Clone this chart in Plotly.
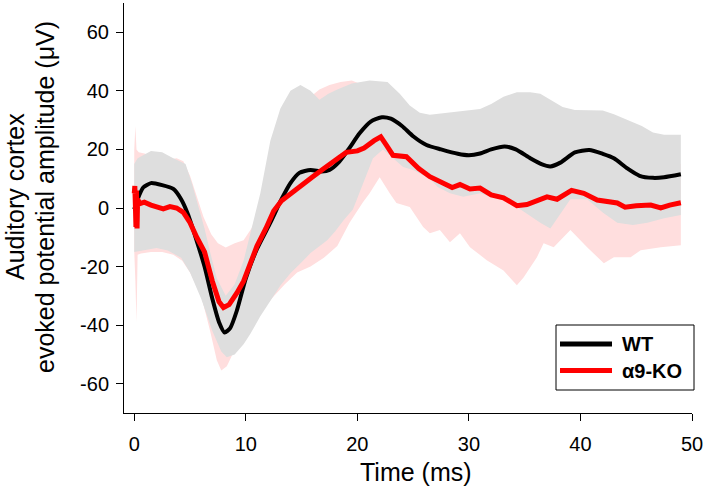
import plotly.graph_objects as go

# WT mean
wt_t = [0, 0.3, 0.8, 1.5, 2.5, 3.5, 4.2, 4.8, 5.5, 6.3, 7.0, 7.6, 8.1, 8.6, 9.2, 10.0, 11.0, 12.2, 13.2, 14.0,
        14.8, 15.8, 16.8, 17.5, 18.3, 19.2, 20.2, 21.2, 22.2, 23.0, 24.0, 25.0, 26.2, 27.5, 29.0, 30.0, 31.0,
        32.0, 33.2, 34.2, 35.5, 36.5, 37.3, 38.2, 39.5, 40.8, 42.0, 43.0, 44.2, 45.3, 46.5, 47.5, 49.0]
wt_y = [-0.5, 3, 7, 8.5, 7.8, 6.5, 3, -2, -10, -20, -31, -39, -42.5, -41, -35, -24, -14, -5, 3, 8.5,
        12, 13, 12.5, 13, 15.5, 20, 25.5, 29.5, 31, 30.5, 28, 24.5, 21.5, 20, 18.5, 18, 18.6,
        20, 21, 20, 17, 15, 14.2, 15.5, 19, 19.8, 18.5, 17, 13.5, 11, 10.3, 10.5, 11.5]

# KO mean
ko_t = [0, 0.05, 0.1, 0.15, 0.2, 0.25, 0.3, 0.5, 0.9, 1.5, 2.0, 2.6, 3.2, 3.8, 4.4, 5.0, 5.6, 6.3, 7.0, 7.6,
        8.0, 8.5, 9.2, 9.8, 10.5, 11.0, 11.8, 12.5, 13.2, 14.0, 15.0, 16.0, 17.0, 18.0, 19.0, 20.0, 20.6,
        21.5, 22.1, 22.6, 23.2, 24.4, 25.5, 26.5, 27.5, 28.5, 29.2, 30.1, 31.0, 32.0, 33.1, 34.3, 35.2,
        36.1, 37.0, 37.9, 39.2, 40.3, 41.5, 43.3, 44.0, 45.0, 46.3, 47.2, 48.0, 49.0]
ko_y = [5, 7.5, 1, -6.5, 6, -7, 3, 1.5, 2, 1, 0.5, -0.3, 0.5, 0, -1.5, -5, -10, -15, -25, -32,
        -34, -33, -29, -25, -18, -13, -7, -1, 2.5, 5, 8, 10.7, 13.5, 16, 19, 19.5, 20.5,
        23, 24.3, 21.5, 18, 17.5, 13.5, 10.7, 9, 7, 8, 6.5, 6.8, 4.5, 3.5, 0.8, 1.2,
        2.7, 3.8, 3, 6, 5, 2.7, 1.7, 0.3, 0.8, 1, 0, 1, 1.8]

# WT band (upper / lower)
wt_up_t = [0, 0.3, 1.5, 2.5, 3.5, 4.6, 5.2, 5.8, 6.3, 6.8, 7.4, 8.2, 9.0, 9.8, 10.5, 11.3, 12.2, 13.1, 14.0,
           14.9, 15.8, 16.6, 17.4, 18.2, 19.5, 21.1, 22.7, 23.8, 24.7, 25.6, 26.5, 28.0, 29.5, 31.0, 32.0,
           33.1, 34.3, 35.5, 36.4, 37.3, 38.4, 39.5, 41.0, 42.0, 43.0, 44.2, 45.5, 46.5, 47.5, 49.0]
wt_up_y = [15, 17, 19.5, 19, 17, 15, 8, 0, -7, -15, -24, -30, -26, -18, -7, 5, 23, 34, 40,
           42, 40, 37, 39, 40.5, 42.5, 43.5, 43, 39, 35, 32.5, 31.8, 32.5, 33, 33.8, 35.5,
           38, 39.5, 39.5, 39, 37, 34.5, 33.5, 33.5, 33.3, 32, 30.2, 28, 25.8, 25, 25]
wt_lo_t = [0, 0.5, 2.0, 3.0, 4.2, 5.0, 6.0, 7.0, 7.8, 8.3, 9.0, 9.8, 10.4, 11.3, 12.2, 13.1, 14.0, 15.0,
           15.8, 16.6, 17.3, 18.0, 18.8, 19.6, 20.5, 21.4, 22.3, 23.2, 24.1, 25.0, 26.5, 27.2, 28.3,
           29.5, 31.0, 32.2, 33.1, 34.3, 35.4, 36.4, 37.3, 38.2, 39.1, 40.6, 42.0, 43.3, 44.7, 46.0,
           47.5, 49.0]
wt_lo_y = [-15, -14.5, -13.7, -14.5, -17, -22, -31, -42, -49, -51, -50, -46.5, -43, -37, -31.6, -26.5, -22.3, -18.5,
           -15.4, -13, -11, -8, -4, -0.5, 8, 17, 20, 17, 14, 13, 10, 7.2, 5,
           3.8, 5, 3.5, 2.7, 0.3, -2.5, -5, -7, -2, 3, 3, -1.5, -5, -5.8, -5,
           -3.5, -2.4]

# KO band (upper / lower)
ko_up_t = [0, 0.1, 0.2, 0.4, 1.0, 2.0, 3.0, 3.8, 4.4, 5.0, 5.6, 6.2, 6.9, 7.5, 8.2, 9.0, 9.8, 10.5, 11.2,
           12.0, 13.0, 14.0, 15.0, 15.8, 16.6, 17.5, 18.5, 19.5, 20.5, 21.5, 22.5, 24, 26, 28, 30, 32, 34,
           36, 38, 40, 42, 44, 46, 48, 49]
ko_up_y = [20, 28, 20, 19, 18.5, 16.5, 16.5, 17, 16, 11, 4, -3, -9, -12, -13.5, -12, -11, -7, -1,
           9, 20, 29, 34, 38, 40.5, 42, 43, 43.5, 42, 38, 35, 30, 25, 22, 20, 18, 16,
           17, 18, 18, 16, 14, 14, 15, 15]
ko_lo_t = [0, 0.1, 0.2, 0.3, 0.6, 1.5, 2.5, 3.5, 4.3, 5.0, 6.0, 6.8, 7.4, 7.8, 8.3, 8.8, 9.5, 10.3, 11.3,
           12.3, 13.5, 14.6, 15.8, 17.0, 18.2, 19.3, 20.5, 21.1, 22.0, 22.9, 23.5, 24.7, 25.9, 26.5, 27.4,
           28.3, 29.2, 30.1, 31.6, 33.1, 34.3, 34.9, 36.1, 36.7, 37.6, 39.1, 40.6, 42.1, 43.0, 44.5, 45.4,
           47.2, 49.0]
ko_lo_y = [-15, -25, -39, -16, -15.5, -15, -15, -16, -18, -22, -30, -42, -52, -55.5, -54, -50, -44, -40, -36,
           -31, -26, -22, -20, -17, -13, -5, 2, 5, 10.5, 5, 1.7, 0.3, -6.5, -8.6, -7.5,
           -11.7, -8.6, -13.4, -17.8, -21.3, -26.4, -23.7, -16.8, -12, -13.4, -7.5, -13.4, -18.9, -16.8, -16.8, -14.4,
           -13.4, -12.7]

x_ticks = [0, 10, 20, 30, 40, 50]
x_tick_labels = ["0", "10", "20", "30", "40", "50"]
y_ticks = [-60, -40, -20, 0, 20, 40, 60]
y_tick_labels = ["-60", "-40", "-20", "0", "20", "40", "60"]
series_names = ["WT", "α9-KO"]
series_colors = ["#000000", "#ff0000"]
y_title_lines = ["Auditory cortex", "evoked potential amplitude (μV)"]
x_title = "Time (ms)"

FONT = "Arial, Liberation Sans, sans-serif"

# plot area in pixels (for placing paper-referenced decorations)
W, H = 706, 496
ML, MR, MT, MB = 124, 14, 3, 83
PW, PH = W - ML - MR, H - MT - MB


def px(xp):
    return (xp - ML) / PW


def py(yp):
    return (H - MB - yp) / PH


fig = go.Figure()
fig.add_trace(go.Scatter(x=ko_up_t + ko_lo_t[::-1], y=ko_up_y + ko_lo_y[::-1], fill="toself",
                         fillcolor="#ffdede", line=dict(width=0), mode="lines", showlegend=False,
                         hoverinfo="skip"))
fig.add_trace(go.Scatter(x=wt_up_t + wt_lo_t[::-1], y=wt_up_y + wt_lo_y[::-1], fill="toself",
                         fillcolor="#dedede", line=dict(width=0), mode="lines", showlegend=False,
                         hoverinfo="skip"))
fig.add_trace(go.Scatter(x=wt_t, y=wt_y, mode="lines", name=series_names[0], showlegend=False,
                         line=dict(color=series_colors[0], width=4, shape="spline", smoothing=0.6)))
fig.add_trace(go.Scatter(x=ko_t, y=ko_y, mode="lines", name=series_names[1], showlegend=False,
                         line=dict(color=series_colors[1], width=5)))

# manual legend box
shapes = [dict(type="rect", xref="paper", yref="paper", x0=px(556), x1=px(694), y0=py(390), y1=py(325),
               line=dict(color="black", width=1), fillcolor="white", layer="above")]
annotations = []
for i, (name, col) in enumerate(zip(series_names, series_colors)):
    yc = 344 + 26.5 * i
    shapes.append(dict(type="line", xref="paper", yref="paper", x0=px(560), x1=px(612), y0=py(yc), y1=py(yc),
                       line=dict(color=col, width=5), layer="above"))
    annotations.append(dict(xref="paper", yref="paper", x=px(620), y=py(yc), xanchor="left", yanchor="middle",
                            text="<b>" + name + "</b>", showarrow=False, font=dict(size=20, family=FONT)))

annotations.append(dict(xref="paper", yref="paper", x=px(416), y=py(472), xanchor="center", yanchor="middle",
                        text=x_title, showarrow=False, font=dict(size=25, family=FONT)))
for i, line in enumerate(y_title_lines):
    annotations.append(dict(xref="paper", yref="paper", x=px(15 + 30 * i), y=py(197), xanchor="center",
                            yanchor="middle", text=line, textangle=-90,
                            showarrow=False, font=dict(size=25, family=FONT)))

fig.update_layout(
    width=W, height=H,
    margin=dict(l=ML, r=MR, t=MT, b=MB),
    plot_bgcolor="white", paper_bgcolor="white",
    font=dict(family=FONT, color="black", size=20),
    shapes=shapes, annotations=annotations, showlegend=False,
)
fig.update_xaxes(range=[-0.92, 50], tickvals=x_ticks, ticktext=x_tick_labels, ticks="outside", ticklen=7,
                 tickcolor="black", showline=True, linecolor="black", linewidth=1, showgrid=False,
                 zeroline=False, tickfont=dict(size=20), automargin=False, ticklabelstandoff=6)
fig.update_yaxes(range=[-70, 70], tickvals=y_ticks, ticktext=y_tick_labels, ticks="outside", ticklen=7,
                 tickcolor="black", showline=True, linecolor="black", linewidth=1, showgrid=False,
                 zeroline=False, tickfont=dict(size=20), automargin=False, ticklabelstandoff=3)

fig.write_html("out.html", config={"displayModeBar": False},
               post_script="document.body.style.margin='0px';")
